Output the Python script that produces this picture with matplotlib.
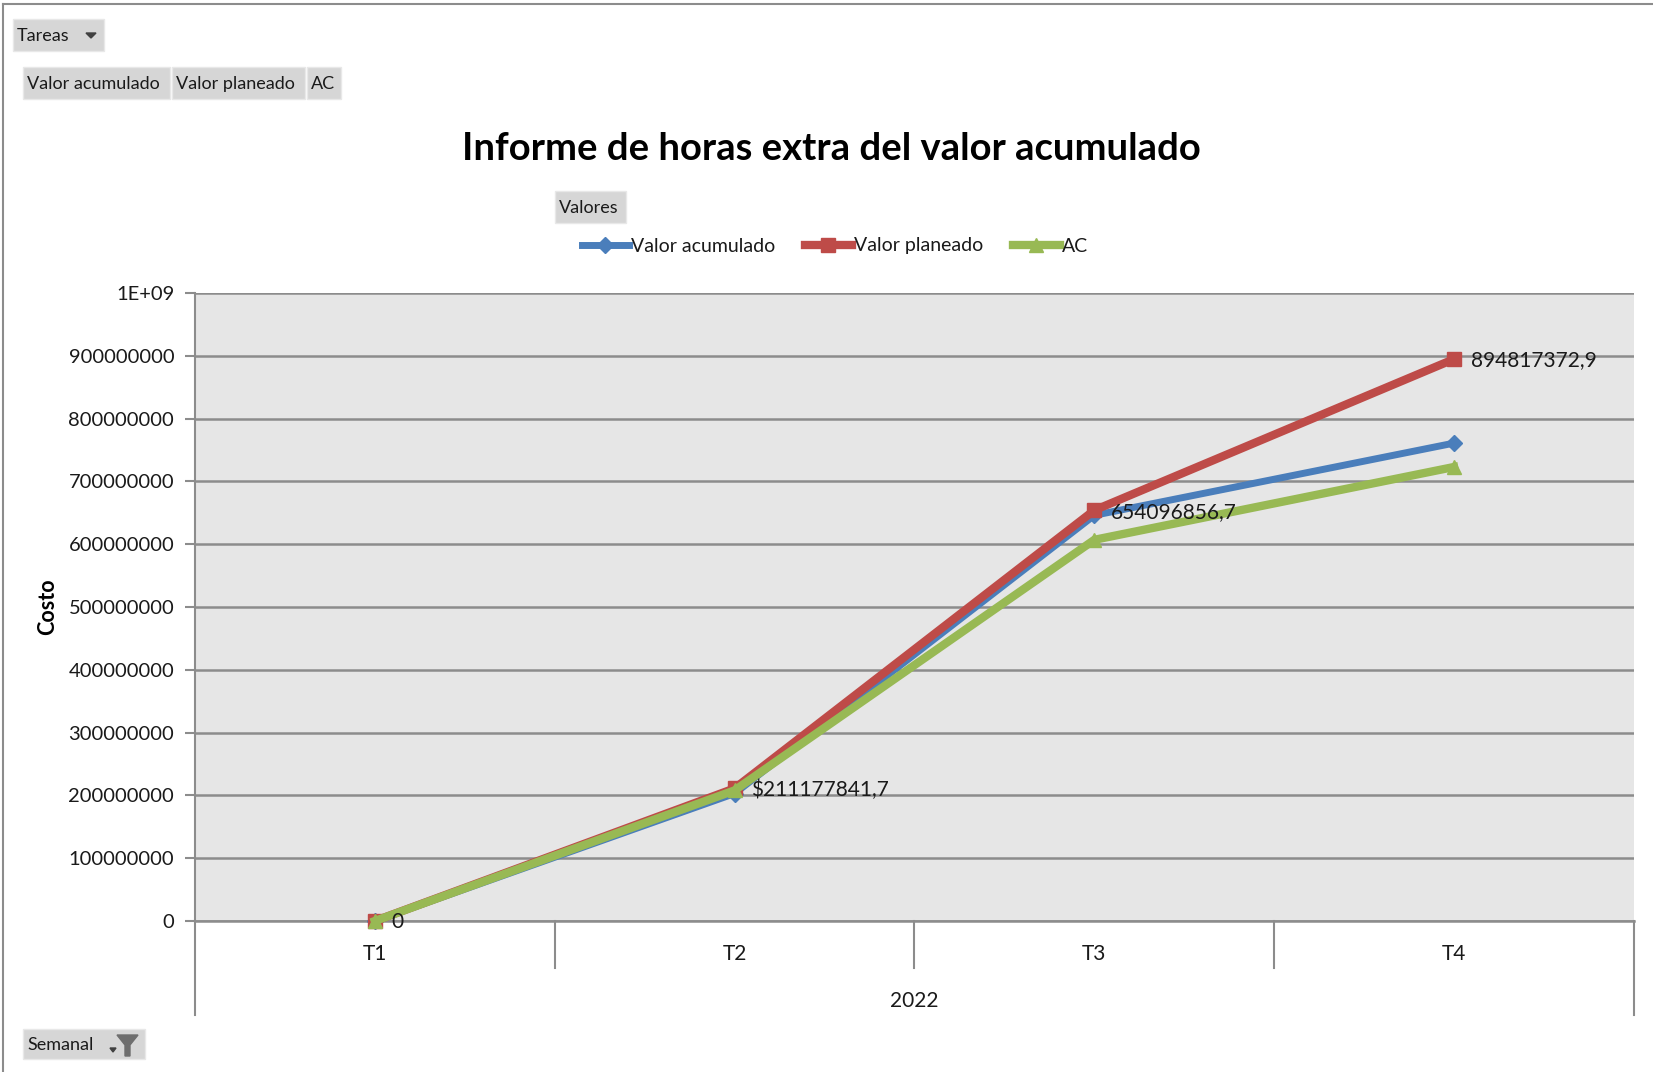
import matplotlib.pyplot as plt
from matplotlib.patches import Rectangle, Polygon
from matplotlib.lines import Line2D
from matplotlib import rcParams

rcParams['font.family'] = ['Lato', 'DejaVu Sans']

W, H = 1653, 1072

periodos = ['T1', 'T2', 'T3', 'T4']
anio = '2022'
valor_acumulado = [0, 203e6, 646e6, 761e6]
valor_planeado = [0, 211177841.7, 654096856.7, 894817372.9]
costo_real = [0, 208e6, 607e6, 723e6]
prefijos = ['', '$', '', '']
y_ticks = [0, 1e8, 2e8, 3e8, 4e8, 5e8, 6e8, 7e8, 8e8, 9e8, 1e9]

AZUL = '#4a7ebb'
ROJO = '#be4b48'
VERDE = '#98b954'
GRIS = '#8c8c8c'
TEXTO = '#1a1a1a'


def fx(px):
    return px / W


def fy(py):
    return 1 - py / H


fig = plt.figure(figsize=(W / 100, H / 100), dpi=100)

# marco del grafico (solo arriba e izquierda)
fig.add_artist(Line2D([fx(3), fx(3)], [fy(4), 0], color=GRIS, lw=1.5))
fig.add_artist(Line2D([fx(3), 1], [fy(4), fy(4)], color=GRIS, lw=1.5))


def boton(x0, y0, x1, y1, texto):
    fig.add_artist(Rectangle((fx(x0), fy(y1)), fx(x1 - x0), (y1 - y0) / H,
                             facecolor='#d6d6d6', edgecolor='#e8e8e8', lw=1))
    fig.text(fx(x0 + 4), fy((y0 + y1) / 2 + 1), texto, ha='left', va='center',
             fontsize=13, color=TEXTO)


boton(13, 19, 104, 51, 'Tareas')
fig.add_artist(Polygon([[fx(86), fy(33)], [fx(96), fy(33)], [fx(91), fy(38)]],
                       closed=True, color='#404040'))
boton(23, 67, 170, 99, 'Valor acumulado')
boton(172, 67, 305, 99, 'Valor planeado')
boton(307, 67, 341, 99, 'AC')
boton(555, 191, 626, 223, 'Valores')
boton(23, 1029, 145, 1059, 'Semanal')
# icono de filtro
fig.add_artist(Polygon([[fx(117), fy(1035)], [fx(138), fy(1035)], [fx(130), fy(1045)],
                        [fx(130), fy(1056)], [fx(125), fy(1056)], [fx(125), fy(1045)]],
                       closed=True, color='#6e6e6e'))
fig.add_artist(Polygon([[fx(110), fy(1048)], [fx(116), fy(1048)], [fx(113), fy(1052)]],
                       closed=True, color='#404040'))

fig.text(fx(831), fy(149), 'Informe de horas extra del valor acumulado', ha='center',
         va='center', fontsize=27.5, fontweight='bold', color='black')

ax = fig.add_axes([fx(195), fy(921), fx(1634 - 195), (921 - 293) / H])
ax.set_facecolor('#e6e6e6')
x = list(range(len(periodos)))

ax.plot(x, valor_acumulado, color=AZUL, lw=5, marker='D', ms=8, label='Valor acumulado',
        solid_joinstyle='miter', clip_on=False, zorder=3)
ax.plot(x, valor_planeado, color=ROJO, lw=6, marker='s', ms=10, label='Valor planeado',
        solid_joinstyle='miter', clip_on=False, zorder=4)
ax.plot(x, costo_real, color=VERDE, lw=6, marker='^', ms=10, label='AC',
        solid_joinstyle='miter', clip_on=False, zorder=5)

for xi, v, p in zip(x, valor_planeado, prefijos):
    etiqueta = '0' if v == 0 else p + f'{v:.1f}'.replace('.', ',')
    ax.annotate(etiqueta, (xi, v), xytext=(12, -1), textcoords='offset points',
                ha='left', va='center', fontsize=15, color=TEXTO, zorder=6)

ax.set_xlim(-0.5, len(periodos) - 0.5)
ax.set_ylim(0, 1e9)
ax.set_yticks(y_ticks)
ax.set_yticklabels(['0'] + [str(int(t)) for t in y_ticks[1:-1]] + ['1E+09'])
ax.tick_params(axis='y', length=7, width=1.5, color=GRIS, labelsize=14.5, labelcolor=TEXTO, pad=8)
ax.grid(axis='y', color=GRIS, lw=1.8)
ax.set_axisbelow(True)
ax.set_xticks([])

for lado in ['top', 'right']:
    ax.spines[lado].set_visible(False)
ax.spines['bottom'].set_color(GRIS)
ax.spines['bottom'].set_linewidth(1.8)
ax.spines['left'].set_color(GRIS)
ax.spines['left'].set_linewidth(1.5)
ax.spines['left'].set_bounds(-0.157, 1e9)

# eje de categorias con dos niveles
trans = ax.get_xaxis_transform()
for b in [0.5, 1.5, 2.5]:
    ax.plot([b, b], [0, -0.075], color=GRIS, lw=1.5, transform=trans, clip_on=False)
ax.plot([len(periodos) - 0.5] * 2, [0, -0.15], color=GRIS, lw=1.5, transform=trans, clip_on=False)
ax.plot([-0.5, -0.5], [0, -0.15], color=GRIS, lw=1.5, transform=trans, clip_on=False)
for xi, t in zip(x, periodos):
    ax.text(xi, -0.052, t, transform=trans, ha='center', va='center', fontsize=15, color=TEXTO)
ax.text((len(periodos) - 1) / 2, -0.128, anio, transform=trans, ha='center', va='center',
        fontsize=15, color=TEXTO)

ax.set_ylabel('Costo', fontsize=15.5, fontweight='bold', color='black')
ax.yaxis.set_label_coords((58 - 195) / (1634 - 195), 0.5)

fig.legend(loc='center', bbox_to_anchor=(fx(835), fy(246)), ncol=3, frameon=False,
           fontsize=14, handlelength=2.4, handletextpad=0.1, columnspacing=1.55, numpoints=1,
           labelcolor=TEXTO)

fig.savefig('out.png', dpi=100, facecolor='white')
